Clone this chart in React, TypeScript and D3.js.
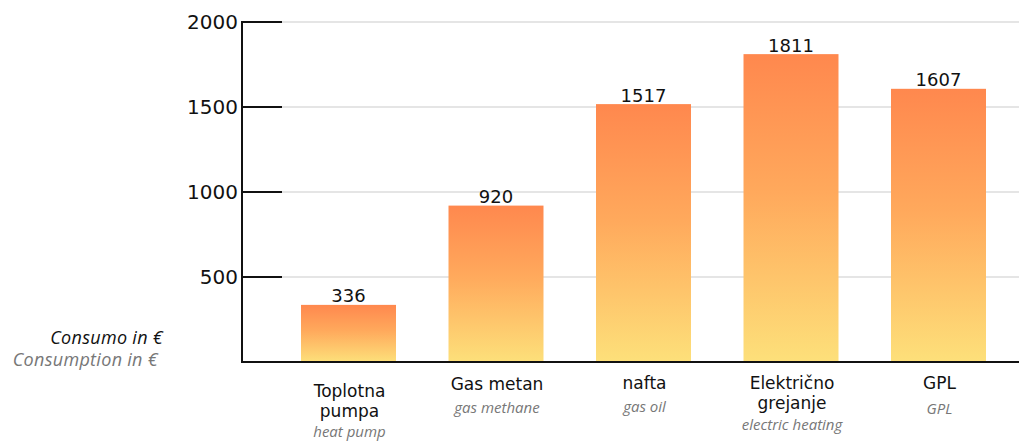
import React from "react";
import * as d3 from "d3";

const categories = ["Toplotna pumpa", "Gas metan", "nafta", "Električno grejanje", "GPL"];
const categoryLines = [["Toplotna", "pumpa"], ["Gas metan"], ["nafta"], ["Električno", "grejanje"], ["GPL"]];
const englishLabels = ["heat pump", "gas methane", "gas oil", "electric heating", "GPL"];
const values = [336, 920, 1517, 1811, 1607];
const yTicks = [500, 1000, 1500, 2000];

const W = 1019;
const H = 442;

export default function App() {
  const y = d3.scaleLinear().domain([0, 2000]).range([362, 22]);
  const x = d3
    .scaleBand<string>()
    .domain(categories)
    .range([274.75, 1012.25])
    .paddingInner(0.356)
    .paddingOuter(0.178);
  const axisX = 242;
  const tickEnd = 282;
  const base = y(0);

  const firstBaselines = [397, 390, 389, 389, 389];
  const lineH = 19.5;
  const englishBaselines = [437, 413, 412, 430, 414];

  return (
    <svg
      width={W}
      height={H}
      style={{ position: "absolute", left: 0, top: 0, background: "#fff" }}
    >
      <defs>
        <linearGradient id="barGrad" x1="0" y1="0" x2="0" y2="1">
          <stop offset="0%" stopColor="#ff884e" />
          <stop offset="45%" stopColor="#ffa95c" />
          <stop offset="100%" stopColor="#fde07a" />
        </linearGradient>
      </defs>

      {/* gridlines */}
      {yTicks.map((t) => (
        <line
          key={"g" + t}
          x1={tickEnd}
          x2={W}
          y1={y(t)}
          y2={y(t)}
          stroke="#dcdcdc"
          strokeWidth={1.5}
        />
      ))}

      {/* bars */}
      {values.map((v, i) => (
        <rect
          key={"b" + i}
          x={x(categories[i])}
          y={y(v)}
          width={x.bandwidth()}
          height={base - y(v)}
          fill="url(#barGrad)"
        />
      ))}

      {/* value labels */}
      {values.map((v, i) => (
        <text
          key={"v" + i}
          x={(x(categories[i]) as number) + x.bandwidth() / 2}
          y={y(v) - 2.5}
          textAnchor="middle"
          fontFamily="DejaVu Sans, Verdana, sans-serif"
          fontSize={18}
          fill="#111"
        >
          {v}
        </text>
      ))}

      {/* axes */}
      <line x1={axisX} x2={axisX} y1={y(2000) - 1} y2={base + 1} stroke="#111" strokeWidth={2} />
      <line x1={axisX - 1} x2={W} y1={base} y2={base} stroke="#111" strokeWidth={2} />
      {yTicks.map((t) => (
        <g key={"t" + t}>
          <line x1={axisX} x2={tickEnd} y1={y(t)} y2={y(t)} stroke="#111" strokeWidth={2} />
          <text
            x={axisX - 4}
            y={y(t)}
            dy="0.36em"
            textAnchor="end"
            fontFamily="DejaVu Sans, Verdana, sans-serif"
            fontSize={20}
            fill="#111"
          >
            {t}
          </text>
        </g>
      ))}

      {/* category labels */}
      {categories.map((c, i) => {
        const cx = (x(c) as number) + x.bandwidth() / 2 + 1;
        const lines = categoryLines[i];
        return (
          <g key={"c" + i}>
            {lines.map((l, j) => (
              <text
                key={j}
                x={cx}
                y={firstBaselines[i] + j * lineH}
                textAnchor="middle"
                fontFamily="DejaVu Sans, Verdana, sans-serif"
                fontSize={17}
                fill="#111"
              >
                {l}
              </text>
            ))}
            <text
              x={cx}
              y={englishBaselines[i]}
              textAnchor="middle"
              fontFamily="Open Sans, sans-serif"
              fontStyle="italic"
              fontSize={15}
              fill="#777"
            >
              {englishLabels[i]}
            </text>
          </g>
        );
      })}

      {/* left axis title */}
      <text
        x={163}
        y={344}
        textAnchor="end"
        fontFamily="Open Sans, sans-serif"
        fontStyle="italic"
        fontSize={18}
        letterSpacing={0.3}
        fill="#111"
      >
        Consumo in €
      </text>
      <text
        x={158}
        y={366}
        textAnchor="end"
        fontFamily="Open Sans, sans-serif"
        fontStyle="italic"
        fontSize={18}
        letterSpacing={0.3}
        fill="#777"
      >
        Consumption in €
      </text>
    </svg>
  );
}
